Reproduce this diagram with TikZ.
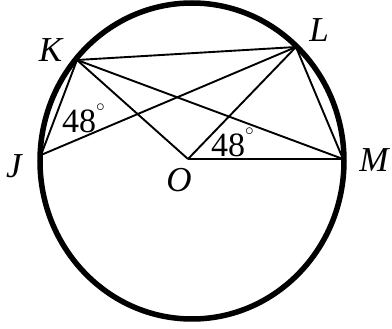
\documentclass[tikz,border=0pt]{standalone}
\usepackage{fontspec}
\setmainfont{Liberation Serif}
\begin{document}
\begin{tikzpicture}[x=1pt,y=-1pt,
  chord/.style={line width=1.9pt},
  rim/.style={line width=5.5pt},
  ptlabel/.style={inner sep=0pt,anchor=base,font=\fontsize{35}{35}\selectfont\itshape},
  anglabel/.style={inner sep=0pt,anchor=base west,font=\fontsize{34}{34}\selectfont}]
\useasboundingbox (0,0) rectangle (392,329);
\coordinate (C) at (192,161);
\coordinate (K) at (77,60);
\coordinate (L) at (296,47);
\coordinate (J) at (41,155);
\coordinate (M) at (343,159);
\coordinate (O) at (188,159);
\draw[rim] (C) ellipse [x radius=152, y radius=158];
\draw[chord] (K) -- (L);
\draw[chord] (K) -- (J);
\draw[chord] (K) -- (O);
\draw[chord] (K) -- (M);
\draw[chord] (J) -- (L);
\draw[chord] (L) -- (O);
\draw[chord] (L) -- (M);
\draw[chord] (O) -- (M);
\node[ptlabel] (lK) at (50.5,62) {K};
\node[ptlabel] (lL) at (319,42) {L};
\node[ptlabel] (lJ) at (14,178) {J};
\node[ptlabel] (lM) at (374,172) {M};
\node[ptlabel] (lO) at (179,192) {O};
\node[anglabel] (a1) at (62,133) {48\raisebox{0.62em}{\fontsize{17}{17}\selectfont$\circ$}};
\node[anglabel] (a2) at (211,157) {48\raisebox{0.62em}{\fontsize{17}{17}\selectfont$\circ$}};
\end{tikzpicture}
\end{document}
